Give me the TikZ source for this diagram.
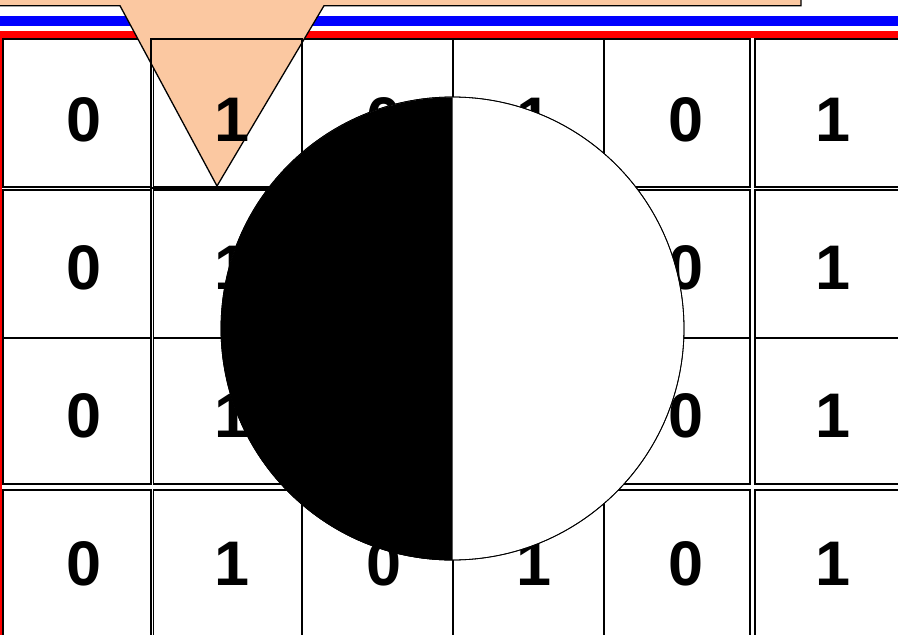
\documentclass[tikz,border=0pt]{standalone}
\usepackage{fontspec}
\setmainfont{Liberation Sans}
\usetikzlibrary{positioning}
\definecolor{calloutpeach}{RGB}{251,200,161}
\definecolor{stripeblue}{RGB}{0,0,255}
\definecolor{stripered}{RGB}{255,0,0}

\begin{document}
\begin{tikzpicture}[
    x=1pt, y=-1pt,
    cell/.style={draw=black, line width=1.2pt},
    digit/.style={font=\fontsize{63}{63}\selectfont\bfseries, inner sep=0pt},
    callout/.style={draw=black, line width=1.3pt, fill=calloutpeach, line join=miter},
    disc/.style={circle, draw=black, line width=0.8pt, fill=white, minimum size=463pt, inner sep=0pt}
]
    \useasboundingbox (0,0) rectangle (898,635);
    \clip (0,0) rectangle (898,635);

    % Stripes
    \draw[stripeblue, line width=9.5pt] (-10,21) -- (910,21);
    \draw[stripered, line width=6.7pt] (910,34.3) -- (-1.85,34.3) -- (-1.85,650);

    % Cells
    \foreach \xa/\xb in {3/151, 153.2/302, 302/453, 453/604, 604/750, 755/905}
      \foreach \ya/\yb in {39/187, 190/338, 338/484, 490/640}
        \draw[cell] (\xa,\ya) rectangle (\xb,\yb);

    % Callout
    \draw[callout] (-10,-10) -- (801,-10) -- (801,5.7) -- (324,5.7)
        -- (217,186) -- (120,5.7) -- (-10,5.7) -- cycle;
    \draw[cell] (151,39) rectangle (302,188);

    % Digits
    \foreach \x/\d [count=\c] in {84/0, 232/1, 384/0, 534/1, 686/0, 833/1}
      \foreach \y [count=\r] in {119.5, 267.5, 415.5, 563.5}
        \node[digit] (d\c\r) at (\x,\y) {\d};

    % Disc
    \node[disc] (moon) at (452.5,328.5) {};
    \fill[black] (moon.south) arc[start angle=-90, end angle=-270, radius=231.5pt] -- cycle;
    \draw[black, line width=0.8pt] (moon.center) circle[radius=231.5pt];

\end{tikzpicture}
\end{document}
